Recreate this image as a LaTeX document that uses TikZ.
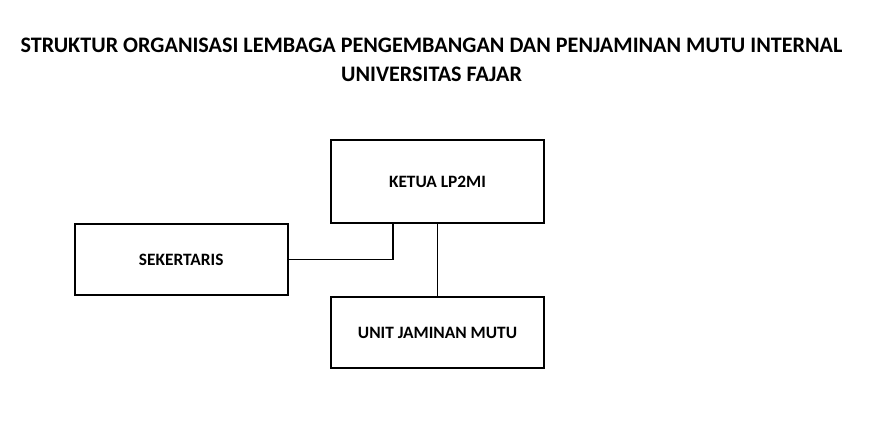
\documentclass[tikz,border=0pt]{standalone}
\usepackage{fontspec}
\setmainfont{Carlito}
\begin{document}
\begin{tikzpicture}[x=0.75pt,y=-0.75pt,
  box/.style={draw=black,line width=1.2pt,inner sep=0pt,font=\bfseries\fontsize{13}{15}\selectfont},
  conn/.style={draw=black,line width=1.2pt},
  ttl/.style={font=\bfseries\fontsize{16.6}{19}\selectfont,inner sep=0pt}]
\useasboundingbox (0,0) rectangle (872,430);
\node[ttl] (t1) at (431.5,45) {STRUKTUR ORGANISASI LEMBAGA PENGEMBANGAN DAN PENJAMINAN MUTU INTERNAL};
\node[ttl] (t2) at (431.5,74) {UNIVERSITAS FAJAR};
\node[box,minimum width=213*0.75pt,minimum height=83*0.75pt] (ketua) at (437.5,181.5) {KETUA LP2MI};
\node[box,minimum width=213*0.75pt,minimum height=71*0.75pt] (sek) at (181.2,259.5) {SEKERTARIS};
\node[box,minimum width=213*0.75pt,minimum height=71*0.75pt] (unit) at (437.5,332.5) {UNIT JAMINAN MUTU};
\coordinate (k1) at (392.7,0);
\draw[conn] (sek.east) -- (k1 |- sek.east) -- (k1 |- ketua.south);
\coordinate (k2) at (437.3,0);
\draw[conn] (k2 |- ketua.south) -- (k2 |- unit.north);
\end{tikzpicture}
\end{document}
